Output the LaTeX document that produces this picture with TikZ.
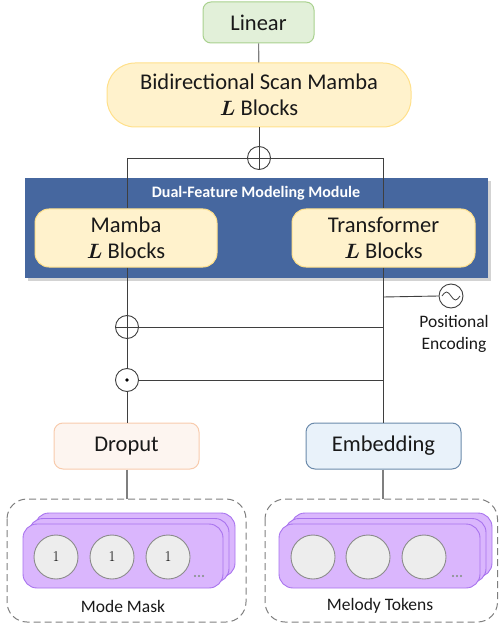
\documentclass[tikz,border=0pt]{standalone}
\usepackage{fontspec}
\setmainfont{Carlito}
\newfontfamily\lmr{Latin Modern Roman}
\usepackage{bm}
\usetikzlibrary{shadows}
\definecolor{lingreen}{HTML}{E2F0D9}
\definecolor{linborder}{HTML}{A9D18E}
\definecolor{yelfill}{HTML}{FFF2CC}
\definecolor{yelborder}{HTML}{FFE08A}
\definecolor{modblue}{HTML}{46679F}
\definecolor{dropfill}{HTML}{FDF5F0}
\definecolor{dropborder}{HTML}{F8CBAD}
\definecolor{embfill}{HTML}{E9F2FA}
\definecolor{embborder}{HTML}{6B8AAB}
\definecolor{purfill}{HTML}{DAB6FD}
\definecolor{purborder}{HTML}{A873EE}
\definecolor{tokfill}{HTML}{EDEDED}
\definecolor{tokborder}{HTML}{8C8C8C}
\definecolor{wire}{HTML}{3F3F3F}
\definecolor{gwire}{HTML}{7F7F7F}
\definecolor{dotcol}{HTML}{7F8F7F}
\begin{document}
\begin{tikzpicture}[x=1pt,y=-1pt,
  blk/.style={draw, line width=1pt, align=center, inner sep=0pt, text=black!90,
    font=\fontsize{22.5}{25.5}\selectfont},
  op/.style={circle, draw=wire, line width=0.9pt, minimum size=23pt, inner sep=0pt},
  wireline/.style={draw=wire, line width=0.9pt},
  gline/.style={draw=gwire, line width=1.1pt},
  card/.style={draw=purborder, fill=purfill, line width=0.9pt, rounded corners=14pt},
  tok/.style={circle, draw=tokborder, fill=tokfill, line width=0.9pt, minimum size=44pt, inner sep=0pt, font=\lmr\fontsize{15}{15}\selectfont},
  dashbox/.style={draw=gwire, line width=1pt, dash pattern=on 7pt off 4pt, rounded corners=20pt},
  lbl/.style={font=\fontsize{17.5}{22}\selectfont, align=center, inner sep=0pt, text=black!90},
]
\useasboundingbox (0,0) rectangle (498,628);

% module background
\fill[modblue, drop shadow={shadow xshift=3pt, shadow yshift=-3pt, opacity=0.35}] (25,178) rectangle (488,278);
\node[font=\bfseries\fontsize{16}{16}\selectfont, text=white] (modtitle) at (256,193) {Dual-Feature Modeling Module};

% top nodes
\node[blk, draw=linborder, fill=lingreen, rounded corners=8pt, minimum width=111pt, minimum height=41pt] (linear) at (258.5,22.5) {Linear};
\node[blk, draw=yelborder, fill=yelfill, rounded corners=28pt, minimum width=304pt, minimum height=64pt] (bsm) at (259,95) {Bidirectional Scan Mamba\\$\bm{L}$ Blocks};

\node[op] (sumtop) at (259,158) {};
\coordinate (jl) at (127,158);
\coordinate (jr) at (383,158);

% lines to module
\path[gline] (linear) -- (bsm);
\path[wireline] (bsm) -- (sumtop);
\path[wireline] (sumtop.north) -- (sumtop.south);
\path[wireline] (jl) -- (jr);

% left / right verticals
\node[op] (sumleft) at (127,327) {};
\node[op] (dotleft) at (127,380) {};
\fill[black] (dotleft.center) circle (1.8pt);
\coordinate (rs) at (383,327);
\coordinate (rd) at (383,380);
\coordinate (rp) at (383,297);

\node[blk, draw=dropborder, fill=dropfill, rounded corners=9pt, minimum width=145pt, minimum height=46pt] (dropout) at (126.5,446) {Droput};
\node[blk, draw=embborder, fill=embfill, rounded corners=9pt, minimum width=155pt, minimum height=46pt] (embed) at (383.5,446) {Embedding};

\node[blk, draw=yelborder, fill=yelfill, rounded corners=14pt, minimum width=182pt, minimum height=58pt] (mamba) at (126,238) {Mamba\\$\bm{L}$ Blocks};
\node[blk, draw=yelborder, fill=yelfill, rounded corners=14pt, minimum width=183pt, minimum height=58pt] (trans) at (383.5,238) {Transformer\\$\bm{L}$ Blocks};

\path[wireline] (jl) -- (jl |- mamba.north);
\path[wireline] (jr) -- (jr |- trans.north);

\path[wireline] (mamba.south -| jl) -- (sumleft.north);
\path[wireline] (sumleft.north) -- (sumleft.south);
\path[wireline] (sumleft.west) -- (sumleft.east);
\path[wireline] (sumleft.south) -- (dotleft.north);
\path[wireline] (dotleft.south) -- (dropout.north -| dotleft);
\path[wireline] (trans.south -| jr) -- (embed.north -| jr);
\path[wireline] (sumleft.east) -- (rs);
\path[wireline] (dotleft.east) -- (rd);

% positional encoding
\node[op, minimum size=24pt] (pe) at (451,296) {};
\path[wireline] (rp) -- (pe.west);
\draw[wire, line width=0.8pt] ([xshift=-9pt]pe.center) sin ([xshift=-4.5pt,yshift=4pt]pe.center) cos (pe.center) sin ([xshift=4.5pt,yshift=-4pt]pe.center) cos ([xshift=9pt]pe.center);
\node[lbl] (pelbl) at (454,334) {Positional\\Encoding};

% bottom dashed boxes
\draw[dashbox] (7,499) rectangle (246,622);
\draw[dashbox] (265,499) rectangle (497.5,622);
\coordinate (mmtop) at (127,499);
\coordinate (mttop) at (383,499);
\path[gline] (dropout.south -| mmtop) -- (mmtop);
\path[gline] (embed.south -| mttop) -- (mttop);

% cards left
\path[card] (35,513) rectangle (235,577);
\path[card] (29,518.5) rectangle (229,582.5);
\path[card] (23,524) rectangle (223,588);
\node[tok] (t1) at (56,557) {1};
\node[tok] (t2) at (112,557) {1};
\node[tok] (t3) at (168,557) {1};
\foreach \dx in {-4,0,4} \fill[dotcol] (199+\dx,576) circle (1.2pt);

% cards right
\path[card] (291,513) rectangle (492,577);
\path[card] (285,518.5) rectangle (486,582.5);
\path[card] (279,524) rectangle (480,588);
\node[tok] (u1) at (313,557) {};
\node[tok] (u2) at (368,557) {};
\node[tok] (u3) at (424,557) {};
\foreach \dx in {-4,0,4} \fill[dotcol] (457+\dx,576) circle (1.2pt);

\node[lbl] (mmlbl) at (123,606) {Mode Mask};
\node[lbl] (mtlbl) at (380,606) {Melody Tokens};
\end{tikzpicture}
\end{document}
